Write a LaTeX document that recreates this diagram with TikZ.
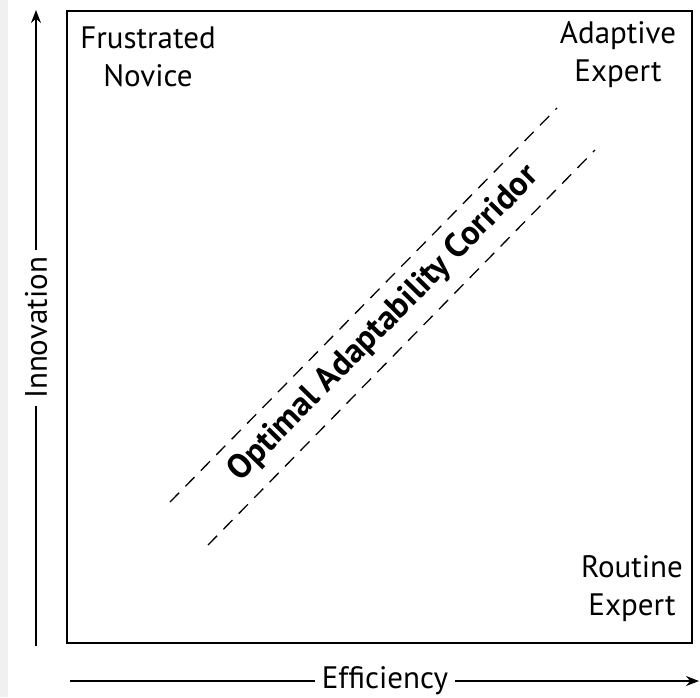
\documentclass[tikz,border=0pt]{standalone}
\usepackage{fontspec}
\setmainfont{PT Sans}
\usetikzlibrary{arrows.meta}
\begin{document}
\begin{tikzpicture}[x=1pt,y=-1pt,
  lbl/.style={font=\fontsize{31}{38}\selectfont, align=center, inner sep=0pt},
  axislbl/.style={font=\fontsize{31}{38}\selectfont, fill=white, inner xsep=7pt, inner ysep=2pt},
  axis/.style={line width=1.5pt, -{Stealth[length=13pt,width=10pt]}},
  corr/.style={line width=1.3pt, dash pattern=on 13pt off 9pt}]
\useasboundingbox (0,0) rectangle (700,697);
\fill[white] (0,0) rectangle (700,697);
\fill[gray!12] (0,0) rectangle (8,697);
% frame
\draw[line width=1.8pt] (67,11) rectangle (692,643);
% axes
\coordinate (vy0) at (36,646);
\coordinate (vy1) at (36,10);
\coordinate (hx0) at (70,681);
\coordinate (hx1) at (699,681);
\draw[axis] (vy0) -- (vy1);
\draw[axis] (hx0) -- (hx1);
\node[axislbl, rotate=90] (innov) at (36,328) {Innovation};
\node[axislbl] (eff) at (385,681) {Efficiency};
% corner labels
\node[lbl] (fn) at (148,57) {Frustrated\\Novice};
\node[lbl] (ae) at (618,55) {Adaptive\\Expert};
\node[lbl] (re) at (632,589) {Routine\\Expert};
% corridor
\coordinate (u0) at (170,502);
\coordinate (u1) at (557,108);
\coordinate (l0) at (208,545);
\coordinate (l1) at (595,150);
\draw[corr] (u0) -- (u1);
\draw[corr] (l0) -- (l1);
\node[font=\fontsize{34}{40}\selectfont\bfseries, rotate=45.5, inner sep=0pt] (corrtxt) at (384,324) {Optimal Adaptability Corridor};
\end{tikzpicture}
\end{document}
